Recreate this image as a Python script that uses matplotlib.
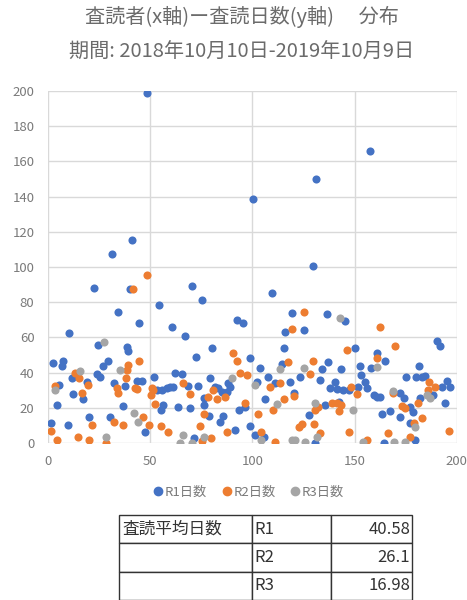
import matplotlib
matplotlib.use("Agg")
import matplotlib.pyplot as plt
from matplotlib.lines import Line2D

plt.rcParams['font.family'] = ['Noto Sans CJK JP', 'DejaVu Sans']

title1 = "査読者(x軸)ー査読日数(y軸)　 分布"
title2 = "期間: 2018年10月10日-2019年10月9日"

r1_x = [1.3, 2.1, 4.4, 5.4, 6.5, 7.3, 9.5, 10.3, 11.4, 12.3, 17, 19, 20, 22.5, 23.7, 24.2, 25.3, 26.6, 29.1, 30.2,
        31.4, 32.4, 34, 36.4, 37.6, 38.4, 39.2, 40, 41.2, 43.6, 44.6, 45.8, 47.4, 48.3, 51.8, 53, 54.4, 55.2, 55.6, 56.4,
        58, 59.6, 60.5, 61.3, 62, 63.4, 65.4, 67, 68.6, 69.4, 70.3, 71.6, 72.4, 73.2, 75.2, 76.3, 76.5, 78.8, 79.2, 80.2,
        81.7, 83.3, 84.2, 85, 85.5, 87.4, 88.2, 89, 91.5, 92.4, 93.2, 95.3, 96.5, 98.6, 98.9, 100.2, 101.4, 102.2, 103.5, 105.4,
        106.3, 107.4, 109.5, 111.2, 114.4, 115.2, 116, 118.5, 119.3, 120.1, 123.4, 125.4, 127.5, 129.5, 130.4, 131.1, 133.2, 134, 135.3, 136.5,
        136.8, 138.1, 140.6, 141.4, 142.2, 143.3, 144.3, 145.5, 147.1, 150.4, 151.5, 152.5, 153.2, 155.3, 156.1, 157.4, 158.1, 159.4, 161, 161,
        162.6, 163.4, 164.3, 165, 167.5, 172.4, 172.4, 174, 175.2, 177.3, 177.3, 178.6, 179.8, 180.3, 181.4, 182.2, 183, 184.7, 188.3, 190.4,
        192, 192.9, 194.5, 195.3, 196.6]
r1_y = [11.6, 45.6, 21.6, 33, 43.7, 46.8, 10.2, 62.7, 36.7, 27.7, 25, 34.5, 14.8, 88, 39, 55.7, 37.7, 43.7, 46.8, 14.8,
        107.6, 33.9, 74.6, 21, 32.4, 54.7, 52.3, 87.3, 115.2, 35.2, 68.4, 35.2, 6.4, 198.8, 37.7, 30, 78.4, 18.8, 30, 21.6,
        31, 32, 65.7, 31.6, 39.6, 20.6, 39, 60.8, 32.4, 19.7, 89.2, 2.7, 48.7, 32.4, 81.3, 21.6, 25.4, 15.5, 36.7, 53.8,
        32, 31, 12, 29, 15.5, 29, 33.9, 32, 7.4, 69.9, 18.8, 68, 20.6, 48.1, 9.7, 138.7, 4.5, 34.8, 42.4, 3.6,
        24.8, 37.3, 85.4, 33.9, 44.9, 54.2, 63.3, 34.8, 74, 28.6, 37.7, 64.2, 15.9, 100.6, 0.2, 149.9, 35.8, 42.2, 21.6, 73.1,
        46.2, 31, 34.8, 30.5, 23.5, 41.9, 30.1, 69.5, 30.1, 53.8, 32, 43.8, 38.6, 34.8, 31, 166, 42.4, 27.3, 51, 26,
        26, 16.5, 0.2, 46.8, 18.4, 28.2, 14.6, 25.4, 37.7, 20.6, 11.2, 17.8, 1.7, 37.7, 43.8, 25.4, 37.7, 38.1, 27.3, 58.1,
        55.1, 32, 22.5, 35.2, 32]

r2_x = [1.1, 3.3, 4.4, 13, 14.4, 15.2, 16.3, 19.3, 20, 21.4, 28.3, 32.4, 33.5, 34.3, 36.4, 38, 38.4, 39.2, 41.3, 42.5,
        43.6, 44.6, 46.2, 48.5, 49.5, 50.2, 50.7, 51.5, 52.3, 55.2, 58.5, 66.2, 69.4, 74.3, 75.3, 76.3, 78.4, 79.5, 80.9, 82.8,
        86.6, 87.4, 90.4, 92.6, 94, 96.5, 97.3, 102.5, 104.1, 108.4, 110, 111.2, 113.3, 115.2, 117.2, 119.3, 120.1, 122.6, 124.2, 125.4,
        128.3, 129.5, 130, 130.8, 131.9, 133.2, 138.9, 141.4, 142.2, 143.3, 146.3, 147.1, 148.3, 151.2, 156.1, 161, 162.3, 166.2, 168.7, 170,
        173.2, 174.9, 177.3, 179, 181.1, 183, 185.8, 186.3, 189.6, 196.1]
r2_y = [6.6, 32.4, 1.7, 39.6, 3.6, 36.7, 28.6, 33, 1.7, 10.2, 0.2, 12.1, 31, 28.6, 10.2, 36.7, 41.5, 44.3, 87.3, 31,
        30.5, 46.8, 15, 95.5, 10.2, 27.3, 31, 30, 22.2, 9.8, 6.4, 33.9, 27.7, 9.7, 1.3, 16.5, 26.3, 2.7, 30, 24.8,
        26.3, 6.4, 51, 46.8, 40, 22.5, 38.6, 16.5, 6.4, 32, 18.8, 0.4, 33.9, 25, 46.2, 64.6, 26.7, 9.3, 10.6, 74.6,
        39, 46.6, 10.6, 18.8, 20.3, 5.5, 22.9, 22.5, 18.4, 21.6, 52.8, 6.4, 31.6, 27.8, 1.7, 48.1, 65.7, 5.5, 28.6, 55.1,
        21, 19.7, 3.6, 11.2, 22.5, 14, 30.1, 34.8, 32, 6.8]

r3_x = [3.3, 15.5, 27.5, 28.3, 35.1, 42.2, 44.1, 64.5, 65.8, 70.3, 76.3, 90.2, 101.4, 104.1, 112, 113.3, 119.3, 121, 125.4, 125.9,
        130.4, 131.6, 143, 149.2, 154.1, 161, 168.7, 169.2, 174.9, 179.5, 185.5, 186.8]
r3_y = [30, 41, 57.6, 3.6, 41.5, 16.9, 12.1, 0.2, 4.5, 0.2, 3.6, 36.7, 33, 1.7, 22.2, 41.9, 1.7, 1.7, 42.4, 0.4,
        22.9, 3.6, 71.2, 18.8, 0.4, 43.4, 29.7, 0.4, 0.4, 9.3, 27.3, 25.4]

series_names = ["R1日数", "R2日数", "R3日数"]
colors = ["#4472C4", "#ED7D31", "#A5A5A5"]

x_ticks = [0, 50, 100, 150, 200]
y_ticks = [0, 20, 40, 60, 80, 100, 120, 140, 160, 180, 200]

table_label = "査読平均日数"
table_rows = ["R1", "R2", "R3"]
table_vals = ["40.58", "26.1", "16.98"]

title_c = "#6b6b6b"
tick_c = "#7a7a7a"
grid = "#D9D9D9"

fig = plt.figure(figsize=(4.67, 6.0), dpi=100)
ax = fig.add_axes([0.1034, 0.2617, 0.8745, 0.5867])

for xs, ys, c in zip([r1_x, r2_x, r3_x], [r1_y, r2_y, r3_y], colors):
    ax.scatter(xs, ys, s=34, color=c, linewidths=0, zorder=3)

ax.set_xlim(0, 200)
ax.set_ylim(0, 200)
ax.set_xticks(x_ticks)
ax.set_yticks(y_ticks)
ax.grid(True, color=grid, linewidth=1.0, zorder=0)
for s in ax.spines.values():
    s.set_visible(False)
ax.tick_params(length=0, colors=tick_c, labelsize=9.5, pad=10)
ax.tick_params(axis='x', pad=9)

fig.text(0.517, 0.972, title1, ha='center', va='center', fontsize=14.5, color=title_c)
fig.text(0.517, 0.913, title2, ha='center', va='center', fontsize=14.5, color=title_c)

handles = [Line2D([0], [0], marker='o', linestyle='none', markersize=6,
                  markerfacecolor=c, markeredgecolor=c) for c in colors]
fig.legend(handles, series_names, loc='center', bbox_to_anchor=(0.531, 0.18),
           ncol=3, frameon=False, fontsize=9.5, labelcolor=tick_c,
           handletextpad=0.0, columnspacing=1.0, handlelength=1.0)

tax = fig.add_axes([0.2555, 0.0, 0.626, 0.1417])
tax.axis('off')
cell_text = [[table_label if i == 0 else "", r, v] for i, (r, v) in enumerate(zip(table_rows, table_vals))]
tbl = tax.table(cellText=cell_text, colWidths=[0.455, 0.27, 0.275],
                bbox=[0, 0, 1, 1], cellLoc='left')
tbl.auto_set_font_size(False)
tbl.set_fontsize(12)
for (r, c), cell in tbl.get_celld().items():
    cell.set_edgecolor('#333333')
    cell.set_linewidth(1.0)
    cell.PAD = 0.02
    cell.get_text().set_color('#333333')
    if c == 2:
        cell.get_text().set_ha('right')
        cell._loc = 'right'

fig.savefig("out.png", dpi=100)
